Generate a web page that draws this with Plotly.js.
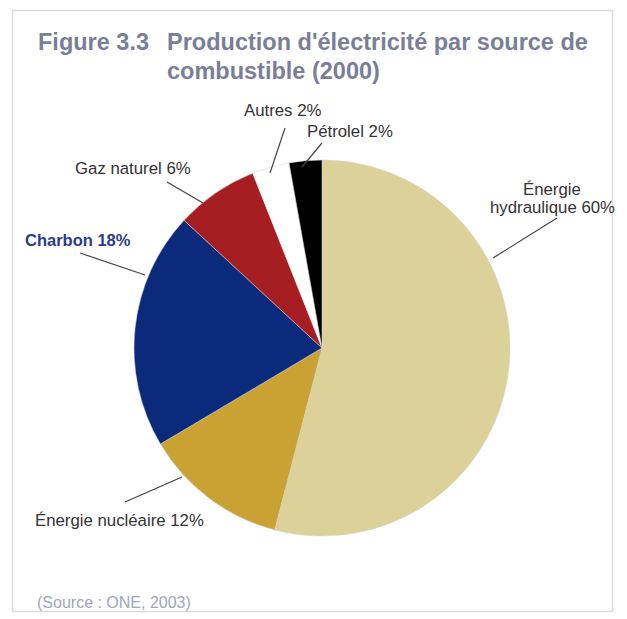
<!DOCTYPE html>
<html>
<head>
<meta charset="utf-8">
<script src="https://cdn.plot.ly/plotly-3.0.1.min.js"></script>
<style>
html,body{margin:0;padding:0;background:#fff;}
#chart{width:627px;height:619px;}
</style>
</head>
<body>
<div id="chart"></div>
<script>
// Data
const categories = ["Énergie hydraulique", "Énergie nucléaire", "Charbon", "Gaz naturel", "Autres", "Pétrolel"];
const drawnShares = [54.0, 12.4, 20.4, 7.1, 3.2, 2.8];   // slice sizes as drawn
const statedPercents = [60, 12, 18, 6, 2, 2];             // percentages printed on the labels
const sliceColors = ["#ddd19a", "#c9a233", "#0b2a7c", "#a71e22", "#ffffff", "#000000"];
const titleLines = ["Figure 3.3", "Production d'électricité par source de", "combustible (2000)"];
const sourceNote = "(Source : ONE, 2003)";

const W = 627, H = 619;
const px = x => x / W;
const py = y => 1 - y / H;

const FONT = '"Liberation Sans", Arial, Helvetica, sans-serif';

const labelLines = [
  ["Énergie", "hydraulique " + statedPercents[0] + "%"],
  ["Énergie nucléaire " + statedPercents[1] + "%"],
  ["Charbon " + statedPercents[2] + "%"],
  ["Gaz naturel " + statedPercents[3] + "%"],
  ["Autres " + statedPercents[4] + "%"],
  ["Pétrolel " + statedPercents[5] + "%"]
];

// label placement (pixels) and leader lines
const labelPos = [
  {x: 552, y: 190, anchor: "center"},
  {x: 33,  y: 520, anchor: "left"},
  {x: 23,  y: 240, anchor: "left"},
  {x: 73,  y: 168, anchor: "left"},
  {x: 242, y: 111, anchor: "left"},
  {x: 305, y: 131, anchor: "left"}
];
const LINE_GAP = 18;
const leaders = [
  [557, 218, 493, 258],
  [125, 502, 182, 477],
  [80, 253, 145, 275],
  [167, 182, 203, 203],
  [285, 128, 270, 173],
  [322, 143, 302, 167]
];

const trace = {
  type: "pie",
  labels: categories,
  values: drawnShares,
  sort: false,
  direction: "clockwise",
  rotation: 0,
  textinfo: "none",
  hoverinfo: "label+percent",
  marker: {colors: sliceColors, line: {color: "#d4d4d4", width: 0.5}},
  domain: {x: [px(134), px(510)], y: [py(536), py(160)]},
  showlegend: false
};

const TITLE_COLOR = "#7a7e98";
const annotations = [];
const titlePos = [{x: 36, y: 42}, {x: 165, y: 42}, {x: 165, y: 71}];
titleLines.forEach((t, i) => {
  annotations.push({
    xref: "paper", yref: "paper", x: px(titlePos[i].x), y: py(titlePos[i].y),
    xanchor: "left", yanchor: "middle",
    text: "<b>" + t + "</b>", showarrow: false,
    font: {family: FONT, size: 23.5, color: TITLE_COLOR}
  });
});
for (let i = 0; i < categories.length; i++) {
  const isCoal = i === 2;
  labelLines[i].forEach((line, k) => {
    annotations.push({
      xref: "paper", yref: "paper", x: px(labelPos[i].x), y: py(labelPos[i].y + k * LINE_GAP),
      xanchor: labelPos[i].anchor, yanchor: "middle",
      text: isCoal ? "<b>" + line + "</b>" : line,
      showarrow: false,
      font: {family: FONT, size: isCoal ? 16.5 : 16.8, color: isCoal ? "#2b3b8c" : "#333333"}
    });
  });
}
annotations.push({
  xref: "paper", yref: "paper", x: px(35), y: py(602), xanchor: "left", yanchor: "middle",
  text: sourceNote, showarrow: false,
  font: {family: FONT, size: 16, color: "#a0a5be"}
});

const shapes = leaders.map(l => ({
  type: "line", xref: "paper", yref: "paper",
  x0: px(l[0]), y0: py(l[1]), x1: px(l[2]), y1: py(l[3]),
  line: {color: "#444", width: 1.2}
}));
shapes.push({
  type: "rect", xref: "paper", yref: "paper",
  x0: px(12.5), y0: py(611.5), x1: px(612.5), y1: py(10.5),
  line: {color: "#dadada", width: 1.5}
});

const layout = {
  width: W, height: H,
  margin: {l: 0, r: 0, t: 0, b: 0},
  paper_bgcolor: "#ffffff",
  plot_bgcolor: "#ffffff",
  showlegend: false,
  annotations: annotations,
  shapes: shapes
};

Plotly.newPlot("chart", [trace], layout, {displayModeBar: false, staticPlot: true});
</script>
</body>
</html>
